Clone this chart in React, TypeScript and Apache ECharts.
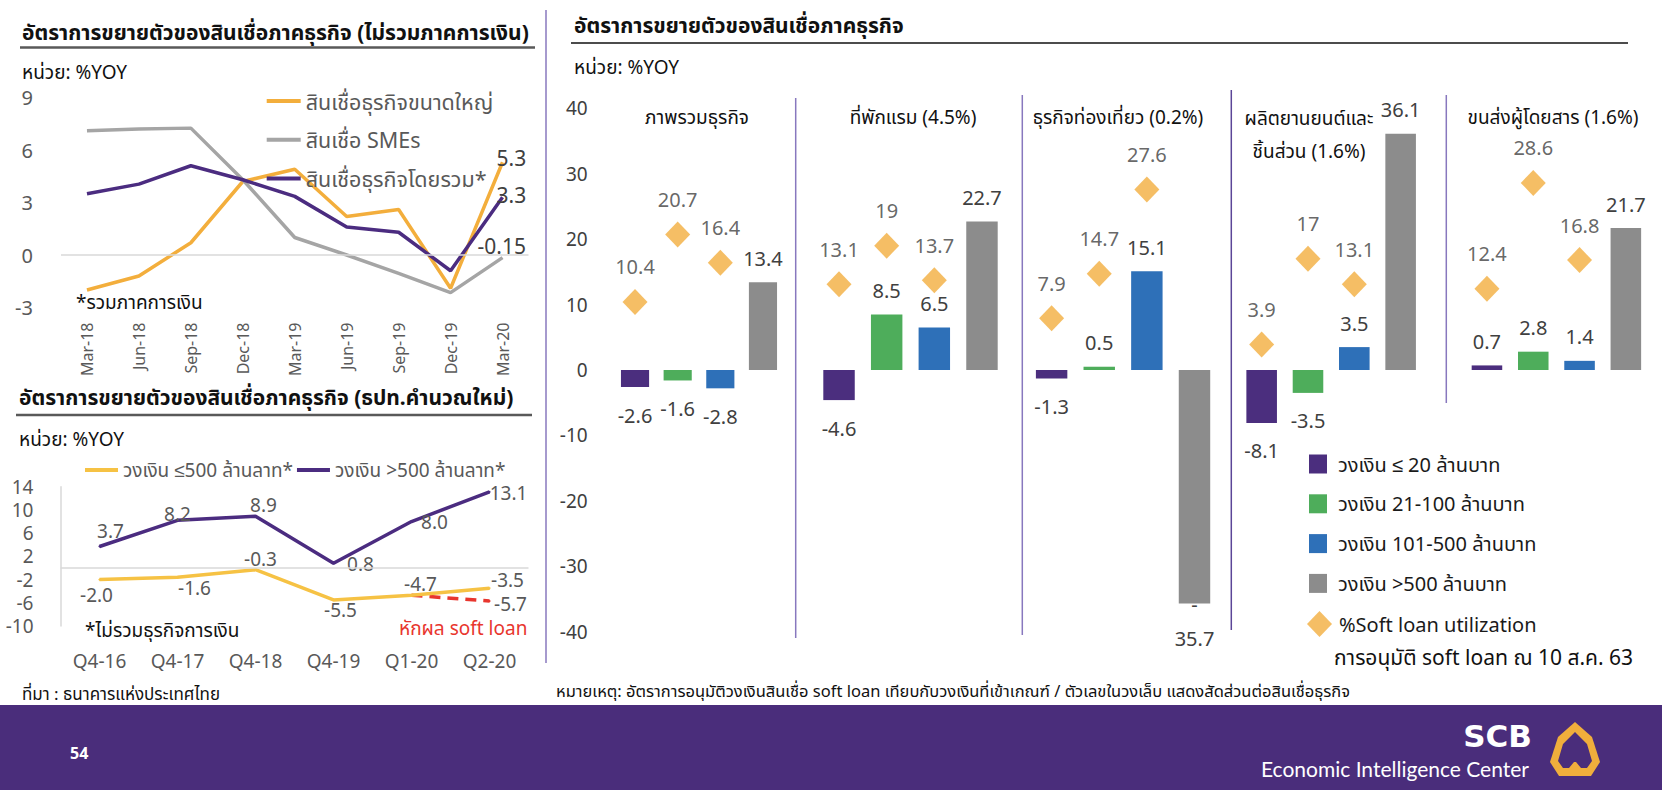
import React, { useEffect, useRef } from 'react';
import * as echarts from 'echarts';

const FONT = "'Noto Sans', 'Noto Sans Thai', Tahoma, sans-serif";

// ---- Top-left: business loan growth excluding finance (%YOY) ----
const quarters = ['Mar-18', 'Jun-18', 'Sep-18', 'Dec-18', 'Mar-19', 'Jun-19', 'Sep-19', 'Dec-19', 'Mar-20'];
const largeCorpLoans = [-2.0, -1.2, 0.7, 4.2, 4.9, 2.2, 2.6, -1.9, 5.3];
const smeLoans = [7.1, 7.2, 7.25, 4.3, 1.0, 0.0, -1.05, -2.15, -0.15];
const totalBizLoans = [3.5, 4.05, 5.1, 4.3, 3.35, 1.6, 1.3, -0.9, 3.3];
const topSeriesNames = ['สินเชื่อธุรกิจขนาดใหญ่', 'สินเชื่อ SMEs', 'สินเชื่อธุรกิจโดยรวม*'];

// ---- Bottom-left: BOT recalculated series ----
const periods = ['Q4-16', 'Q4-17', 'Q4-18', 'Q4-19', 'Q1-20', 'Q2-20'];
const creditUpTo500 = [-2.0, -1.6, -0.3, -5.5, -4.7, -3.5];
const creditOver500 = [3.7, 8.2, 8.9, 0.8, 8.0, 13.1];
const excludingSoftLoan = [null, null, null, null, -4.7, -5.7];
const bottomTickValues = [-10, -6, -2, 2, 6, 10, 14];
const bottomSeriesNames = ['วงเงิน ≤500 ล้านลาท*', 'วงเงิน >500 ล้านลาท*'];

// ---- Right: growth by credit-line size per sector ----
const sectorNames = ['ภาพรวมธุรกิจ', 'ที่พักแรม (4.5%)', 'ธุรกิจท่องเที่ยว (0.2%)', 'ผลิตยานยนต์และ\nชิ้นส่วน (1.6%)', 'ขนส่งผู้โดยสาร (1.6%)'];
const sizeClasses = ['วงเงิน ≤ 20 ล้านบาท', 'วงเงิน 21-100 ล้านบาท', 'วงเงิน 101-500 ล้านบาท', 'วงเงิน >500 ล้านบาท'];
const growthOverall = [-2.6, -1.6, -2.8, 13.4];
const growthHotels = [-4.6, 8.5, 6.5, 22.7];
const growthTourism = [-1.3, 0.5, 15.1, -35.7];
const growthAuto = [-8.1, -3.5, 3.5, 36.1];
const growthTransport = [0.7, 2.8, 1.4, 21.7];
const softLoanOverall = [10.4, 20.7, 16.4];
const softLoanHotels = [13.1, 19, 13.7];
const softLoanTourism = [7.9, 14.7, 27.6];
const softLoanAuto = [3.9, 17, 13.1];
const softLoanTransport = [12.4, 28.6, 16.8];
const utilName = '%Soft loan utilization';
const rightTicks = { min: -40, max: 40, step: 10 };

const sectorGrowth = [growthOverall, growthHotels, growthTourism, growthAuto, growthTransport];
const sectorSoftLoan = [softLoanOverall, softLoanHotels, softLoanTourism, softLoanAuto, softLoanTransport];

// ---- styling ----
const C = {
  orange: '#F3AE3C',
  yellow: '#F6C244',
  gray: '#A5A5A5',
  purple: '#4B2C80',
  red: '#E8362E',
  barPurple: '#4B2E7E',
  barGreen: '#4EAD5B',
  barBlue: '#2E70B8',
  barGray: '#8C8C8C',
  diamond: '#F2AE3E',
  label: '#404040',
  axis: '#595959',
  divider: '#8878BE',
  footer: '#4A2D7B',
};
const sizeColors = [C.barPurple, C.barGreen, C.barBlue, C.barGray];

const panelGrids = [
  { left: 613.7, width: 170.6, titleX: 697, titleY: 117 },
  { left: 815.2, width: 190.6, titleX: 913, titleY: 117 },
  { left: 1027.8, width: 190.5, titleX: 1118, titleY: 117 },
  { left: 1238.5, width: 185.3, titleX: 1309, titleY: 134.5 },
  { left: 1463.8, width: 185.2, titleX: 1553, titleY: 117 },
];

// label placements (centre offsets from the point) for the bottom-left lines
const over500LabelOffsets = [[11, -15], [0, -6], [8, -11], [27, 1], [23, 0], [19, 1]];
const upTo500LabelOffsets = [[-3, 15], [17, 11], [5, -11], [7, 10], [9, -11], [18, -8]];
const softLoanLabelOffsets = [null, null, null, null, null, [21, 3]];

function text(x: number, y: number, s: string, opts: any = {}) {
  return {
    type: 'text',
    x,
    y,
    z: 10,
    style: {
      text: s,
      fill: opts.fill || '#111',
      fontSize: opts.fontSize || 19,
      fontWeight: opts.fontWeight || 'normal',
      fontFamily: opts.fontFamily || FONT,
      align: opts.align || 'left',
      textAlign: opts.align || 'left',
      verticalAlign: 'middle',
      textVerticalAlign: 'middle',
      lineHeight: opts.lineHeight,
    },
  };
}

function vline(x: number, y1: number, y2: number, stroke: string, w = 1.5) {
  return { type: 'line', z: 1, shape: { x1: x, y1, x2: x, y2 }, style: { stroke, lineWidth: w } };
}
function hline(x1: number, x2: number, y: number, stroke: string, w = 1.5) {
  return { type: 'line', z: 1, shape: { x1, y1: y, x2, y2: y }, style: { stroke, lineWidth: w } };
}

function buildOption(): any {
  const grid: any[] = [
    { left: 61, top: 97.5, width: 467.5, height: 210 },
    { left: 60.5, top: 486.7, width: 468, height: 139.3 },
  ];
  const xAxis: any[] = [
    {
      gridIndex: 0,
      type: 'category',
      data: quarters,
      axisLine: { show: false },
      axisTick: { show: false },
      axisLabel: { rotate: 90, margin: 15, fontSize: 16, color: C.axis, fontFamily: FONT },
    },
    {
      gridIndex: 1,
      type: 'category',
      data: periods,
      axisLine: { show: false },
      axisTick: { show: false },
      axisLabel: { margin: 25, fontSize: 19, color: C.axis, fontFamily: FONT },
    },
  ];
  const yAxis: any[] = [
    {
      gridIndex: 0,
      type: 'value',
      min: -3,
      max: 9,
      interval: 3,
      axisLine: { show: false },
      axisTick: { show: false },
      splitLine: { show: false },
      axisLabel: { margin: 28, fontSize: 20, color: C.axis, fontFamily: FONT },
    },
    {
      gridIndex: 1,
      type: 'value',
      min: bottomTickValues[0],
      max: bottomTickValues[bottomTickValues.length - 1],
      axisLine: { show: true, lineStyle: { color: '#D9D9D9', width: 1.5 } },
      axisTick: { show: false },
      splitLine: { show: false },
      axisLabel: { customValues: bottomTickValues, margin: 27, fontSize: 19, color: C.axis, fontFamily: FONT },
    },
  ];

  const zeroLine = {
    silent: true,
    symbol: ['none', 'none'],
    label: { show: false },
    lineStyle: { color: '#D9D9D9', width: 1.5, type: 'solid' },
    data: [{ yAxis: 0 }],
  };

  const topLine = (name: string, data: number[], color: string, offset: number[], withZero = false) => ({
    name,
    type: 'line',
    xAxisIndex: 0,
    yAxisIndex: 0,
    data,
    showSymbol: false,
    symbol: 'none',
    lineStyle: { color, width: 3.5 },
    itemStyle: { color },
    endLabel: {
      show: true,
      distance: 0,
      offset,
      fontSize: 21,
      color: C.label,
      fontFamily: FONT,
      formatter: (p: any) => String(p.value),
    },
    markLine: withZero ? zeroLine : undefined,
  });

  const series: any[] = [
    topLine(topSeriesNames[0], largeCorpLoans, C.orange, [-6, -4], true),
    topLine(topSeriesNames[1], smeLoans, C.gray, [-25, -12]),
    topLine(topSeriesNames[2], totalBizLoans, C.purple, [-6, -2]),
  ];

  const labelledPoints = (values: (number | null)[], offsets: (number[] | null)[]) =>
    values.map((v, i) =>
      v == null
        ? '-'
        : {
            value: v,
            label: offsets[i] ? { show: true, offset: offsets[i] } : { show: false },
          }
    );

  const bottomLabel = {
    show: true,
    position: 'inside',
    fontSize: 19,
    color: C.axis,
    fontFamily: FONT,
    formatter: (p: any) => Number(p.value).toFixed(1),
  };

  series.push(
    {
      name: 'หักผล soft loan',
      type: 'line',
      xAxisIndex: 1,
      yAxisIndex: 1,
      data: labelledPoints(excludingSoftLoan, softLoanLabelOffsets),
      symbol: 'circle',
      symbolSize: 2,
      lineStyle: { color: C.red, width: 3.5, type: [11, 7] },
      itemStyle: { color: C.red },
      label: bottomLabel,
      z: 2,
    },
    {
      name: bottomSeriesNames[0],
      type: 'line',
      xAxisIndex: 1,
      yAxisIndex: 1,
      data: labelledPoints(creditUpTo500, upTo500LabelOffsets),
      symbol: 'circle',
      symbolSize: 2,
      lineStyle: { color: C.yellow, width: 3.5 },
      itemStyle: { color: C.yellow },
      label: bottomLabel,
      markLine: zeroLine,
      z: 3,
    },
    {
      name: bottomSeriesNames[1],
      type: 'line',
      xAxisIndex: 1,
      yAxisIndex: 1,
      data: labelledPoints(creditOver500, over500LabelOffsets),
      symbol: 'circle',
      symbolSize: 2,
      lineStyle: { color: C.purple, width: 3.5 },
      itemStyle: { color: C.purple },
      label: bottomLabel,
      z: 3,
    }
  );

  // right-hand panels
  panelGrids.forEach((g, p) => {
    const gi = 2 + p;
    grid.push({ left: g.left, top: 108.3, width: g.width, height: 523.4 });
    xAxis.push({ gridIndex: gi, type: 'category', data: sizeClasses, show: false });
    yAxis.push({
      gridIndex: gi,
      type: 'value',
      min: rightTicks.min,
      max: rightTicks.max,
      interval: rightTicks.step,
      show: p === 0,
      axisLine: { show: false },
      axisTick: { show: false },
      splitLine: { show: false },
      axisLabel: { margin: 26, fontSize: 19, color: C.label, fontFamily: FONT },
    });
    const growth = sectorGrowth[p];
    sizeClasses.forEach((name, s) => {
      series.push({
        name,
        type: 'bar',
        xAxisIndex: gi,
        yAxisIndex: gi,
        stack: 'panel' + p,
        barCategoryGap: '34%',
        itemStyle: { color: sizeColors[s] },
        label: {
          show: true,
          fontSize: 20,
          color: C.label,
          fontFamily: FONT,
          formatter: (pr: any) => String(pr.value),
        },
        data: sizeClasses.map((_, i) => {
          if (i !== s) return '-';
          const v = growth[i];
          if (v <= -30) {
            // long downward bar: sign sits at the bar's foot, number below it
            return {
              value: v,
              label: {
                position: 'bottom',
                distance: -16,
                lineHeight: 34,
                formatter: (pr: any) => '-\n' + Math.abs(pr.value),
              },
            };
          }
          return { value: v, label: { position: v < 0 ? 'bottom' : 'top', distance: v < 0 ? 18 : 14 } };
        }),
      });
    });
    series.push({
      name: utilName,
      type: 'scatter',
      xAxisIndex: gi,
      yAxisIndex: gi,
      symbol: 'diamond',
      symbolSize: [25, 26],
      itemStyle: { color: C.diamond },
      z: 4,
      label: {
        show: true,
        position: 'top',
        distance: 12,
        fontSize: 20,
        color: C.label,
        fontFamily: FONT,
        formatter: (pr: any) => String(pr.value[1] ?? pr.value),
      },
      data: sectorSoftLoan[p].map((v, i) => [i, v]),
    });
  });

  const legend = [
    {
      orient: 'vertical',
      left: 261.7,
      top: 85,
      itemWidth: 34,
      itemHeight: 4,
      itemGap: 16.7,
      icon: 'rect',
      selectedMode: false,
      data: topSeriesNames,
      textStyle: { fontSize: 21.5, color: C.axis, fontFamily: FONT, lineHeight: 20 },
    },
    {
      orient: 'horizontal',
      left: 80,
      top: 455,
      itemWidth: 33,
      itemHeight: 4,
      itemGap: 4,
      icon: 'rect',
      selectedMode: false,
      data: bottomSeriesNames,
      textStyle: { fontSize: 19, color: C.axis, fontFamily: FONT, lineHeight: 20 },
    },
    {
      orient: 'vertical',
      left: 1304,
      top: 449,
      itemWidth: 18,
      itemHeight: 19,
      itemGap: 19.8,
      icon: 'rect',
      selectedMode: false,
      data: sizeClasses,
      textStyle: { fontSize: 20, color: '#1a1a1a', fontFamily: FONT, lineHeight: 20, padding: [0, 0, 0, 6] },
    },
    {
      orient: 'vertical',
      left: 1302,
      top: 606,
      itemWidth: 25,
      itemHeight: 26,
      icon: 'diamond',
      selectedMode: false,
      data: [utilName],
      textStyle: { fontSize: 20, color: '#1a1a1a', fontFamily: FONT, lineHeight: 20, padding: [0, 0, 0, 2] },
    },
  ];

  const graphic: any[] = [
    // page dividers
    vline(546, 10, 663, C.divider),
    vline(795.7, 98, 638, C.divider),
    vline(1022.3, 95, 635, C.divider),
    vline(1231.3, 90, 630, '#5B4597'),
    vline(1446.3, 95, 403, C.divider),
    // section headings
    text(22, 32, 'อัตราการขยายตัวของสินเชื่อภาคธุรกิจ (ไม่รวมภาคการเงิน)', { fontSize: 21, fontWeight: 'bold' }),
    hline(20, 535, 47.5, '#595959', 2.5),
    text(22, 72, 'หน่วย: %YOY', { fontSize: 19 }),
    text(76, 302, '*รวมภาคการเงิน', { fontSize: 19 }),
    text(19, 397, 'อัตราการขยายตัวของสินเชื่อภาคธุรกิจ (ธปท.คำนวณใหม่)', { fontSize: 21, fontWeight: 'bold' }),
    hline(16, 532, 415, '#595959', 2.5),
    text(19, 439, 'หน่วย: %YOY', { fontSize: 19 }),
    text(85, 630, '*ไม่รวมธุรกิจการเงิน', { fontSize: 19 }),
    text(399, 628, 'หักผล soft loan', { fontSize: 19, fill: C.red }),
    text(22, 693, 'ที่มา : ธนาคารแห่งประเทศไทย', { fontSize: 17 }),
    text(574, 25, 'อัตราการขยายตัวของสินเชื่อภาคธุรกิจ', { fontSize: 21, fontWeight: 'bold' }),
    hline(571, 1628, 43, '#111', 1.5),
    text(574, 67, 'หน่วย: %YOY', { fontSize: 19 }),
    text(1334, 657, 'การอนุมัติ soft loan ณ 10 ส.ค. 63', { fontSize: 21 }),
    text(556, 690, 'หมายเหตุ: อัตราการอนุมัติวงเงินสินเชื่อ soft loan เทียบกับวงเงินที่เข้าเกณฑ์ / ตัวเลขในวงเล็บ แสดงสัดส่วนต่อสินเชื่อธุรกิจ', { fontSize: 16.5 }),
    // footer band
    { type: 'rect', z: 0, shape: { x: 0, y: 705, width: 1662, height: 85 }, style: { fill: C.footer } },
    text(70, 753, '54', { fontSize: 16, fontWeight: 'bold', fill: '#fff' }),
    text(1532, 736, 'SCB', { fontSize: 31, fontWeight: 'bold', fill: '#fff', align: 'right', fontFamily: "'DejaVu Sans', sans-serif" }),
    text(1529, 768, 'Economic Intelligence Center', { fontSize: 21, fill: '#fff', align: 'right', fontFamily: 'Lato, sans-serif' }),
    {
      type: 'polygon',
      z: 10,
      shape: { points: [[1575, 722], [1592, 737], [1600, 762], [1591, 776], [1559, 776], [1550, 762], [1558, 737]] },
      style: { fill: '#F0AE3C' },
    },
    {
      type: 'polygon',
      z: 11,
      shape: {
        points: [[1575, 732], [1587, 744], [1592, 761], [1587, 768], [1581, 768], [1576, 762], [1574, 762], [1569, 768], [1563, 768], [1558, 761], [1563, 744]],
      },
      style: { fill: C.footer },
    },
  ];

  panelGrids.forEach((g, p) => {
    graphic.push(text(g.titleX, g.titleY, sectorNames[p], { fontSize: 19, align: 'center', lineHeight: 33 }));
  });

  return {
    animation: false,
    backgroundColor: '#fff',
    textStyle: { fontFamily: FONT },
    grid,
    xAxis,
    yAxis,
    legend,
    series,
    graphic: { elements: graphic },
  };
}

export default function App() {
  const ref = useRef<HTMLDivElement>(null);
  useEffect(() => {
    if (!ref.current) return;
    const chart = echarts.init(ref.current, null, { renderer: 'svg' });
    chart.setOption(buildOption());
    return () => chart.dispose();
  }, []);
  return (
    <div
      ref={ref}
      style={{ position: 'fixed', left: 0, top: 0, width: 1662, height: 790, background: '#fff' }}
    />
  );
}
